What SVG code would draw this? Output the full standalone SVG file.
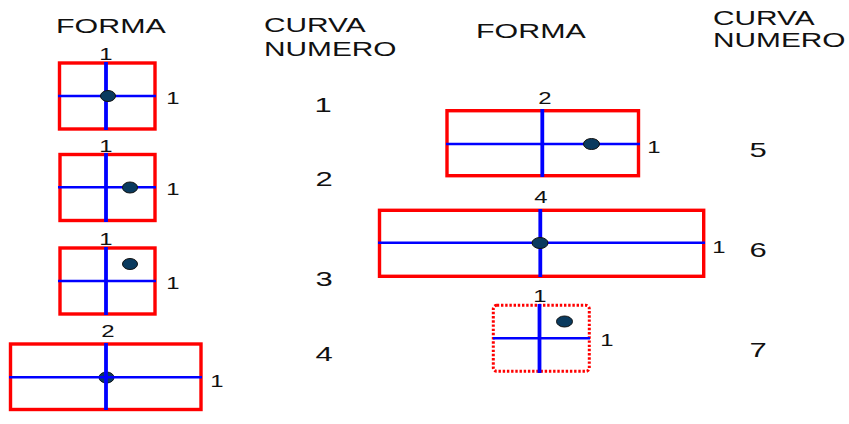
<svg xmlns="http://www.w3.org/2000/svg" width="849" height="424" viewBox="0 0 849 424">
  <style>
    text { font-family: "Liberation Sans", Arial, sans-serif; fill: #111; }
    .hd { font-size: 19.5px; }
    .num { font-size: 20px; text-anchor: middle; }
    .dim { font-size: 16.5px; text-anchor: middle; }
    .frame { fill: none; stroke: #ff0000; stroke-width: 3.4; }
    .frame-dot { fill: none; stroke: #ff0000; stroke-width: 3; stroke-dasharray: 2.4 1.8; }
    .axh { stroke: #0000ff; stroke-width: 2.6; }
    .axv { stroke: #0000ff; stroke-width: 3.8; }
    .pt { fill: #0a3a5e; stroke: #111; stroke-width: 1; }
  </style>

  <!-- column headings -->
  <g id="headings">
    <text class="hd" transform="translate(56 33) scale(1.56 1)">FORMA</text>
    <text class="hd" transform="translate(264 32) scale(1.53 1)">CURVA</text>
    <text class="hd" transform="translate(264 56) scale(1.53 1)">NUMERO</text>
    <text class="hd" transform="translate(476 38) scale(1.56 1)">FORMA</text>
    <text class="hd" transform="translate(713 25) scale(1.53 1)">CURVA</text>
    <text class="hd" transform="translate(713 47) scale(1.53 1)">NUMERO</text>
  </g>

  <!-- shape 1 -->
  <g id="forma1">
    <rect class="frame" x="59.5" y="63" width="95.5" height="66"/>
    <line class="axh" x1="58" y1="96" x2="156" y2="96"/>
    <line class="axv" x1="106" y1="62" x2="106" y2="130"/>
    <ellipse class="pt" cx="108" cy="96" rx="7.5" ry="5.5"/>
    <text class="dim" transform="translate(106 60) scale(1.45 1)">1</text>
    <text class="dim" transform="translate(173 104) scale(1.45 1)">1</text>
  </g>
  <g id="curva1"><text class="num" transform="translate(323 112) scale(1.55 1)">1</text></g>

  <!-- shape 2 -->
  <g id="forma2">
    <rect class="frame" x="60" y="154.5" width="95" height="66"/>
    <line class="axh" x1="58" y1="187.3" x2="156" y2="187.3"/>
    <line class="axv" x1="106" y1="153" x2="106" y2="222"/>
    <ellipse class="pt" cx="130" cy="187.5" rx="7.5" ry="5.5"/>
    <text class="dim" transform="translate(106 152) scale(1.45 1)">1</text>
    <text class="dim" transform="translate(173 195) scale(1.45 1)">1</text>
  </g>
  <g id="curva2"><text class="num" transform="translate(324 186) scale(1.55 1)">2</text></g>

  <!-- shape 3 -->
  <g id="forma3">
    <rect class="frame" x="60" y="248" width="95" height="66"/>
    <line class="axh" x1="58" y1="281" x2="156" y2="281"/>
    <line class="axv" x1="106" y1="247" x2="106" y2="315"/>
    <ellipse class="pt" cx="130" cy="264" rx="7.5" ry="5.5"/>
    <text class="dim" transform="translate(106 245) scale(1.45 1)">1</text>
    <text class="dim" transform="translate(173 289) scale(1.45 1)">1</text>
  </g>
  <g id="curva3"><text class="num" transform="translate(324 286) scale(1.55 1)">3</text></g>

  <!-- shape 4 -->
  <g id="forma4">
    <rect class="frame" x="10.5" y="344" width="190.5" height="65.5"/>
    <ellipse class="pt" cx="106.5" cy="377.5" rx="7.5" ry="5.5"/>
    <line class="axh" x1="9" y1="377.3" x2="202" y2="377.3"/>
    <line class="axv" x1="106" y1="343" x2="106" y2="410"/>
    <text class="dim" transform="translate(108 337) scale(1.45 1)">2</text>
    <text class="dim" transform="translate(217 387) scale(1.45 1)">1</text>
  </g>
  <g id="curva4"><text class="num" transform="translate(324 361) scale(1.55 1)">4</text></g>

  <!-- shape 5 -->
  <g id="forma5">
    <rect class="frame" x="447" y="110.7" width="191.5" height="65"/>
    <line class="axh" x1="446" y1="144" x2="640" y2="144"/>
    <line class="axv" x1="542.3" y1="109" x2="542.3" y2="177"/>
    <ellipse class="pt" cx="591.5" cy="144" rx="8" ry="5.5"/>
    <text class="dim" transform="translate(545 104) scale(1.45 1)">2</text>
    <text class="dim" transform="translate(654 153) scale(1.45 1)">1</text>
  </g>
  <g id="curva5"><text class="num" transform="translate(758 157) scale(1.55 1)">5</text></g>

  <!-- shape 6 -->
  <g id="forma6">
    <rect class="frame" x="379.5" y="210.3" width="324.2" height="66"/>
    <line class="axh" x1="378" y1="242.7" x2="705" y2="242.7"/>
    <line class="axv" x1="540.3" y1="209" x2="540.3" y2="277"/>
    <ellipse class="pt" cx="540" cy="243" rx="8" ry="5.5"/>
    <text class="dim" transform="translate(541 203) scale(1.45 1)">4</text>
    <text class="dim" transform="translate(719 253) scale(1.45 1)">1</text>
  </g>
  <g id="curva6"><text class="num" transform="translate(758 257) scale(1.55 1)">6</text></g>

  <!-- shape 7 (dotted outline) -->
  <g id="forma7">
    <rect class="frame-dot" x="493.3" y="305.3" width="96" height="66" rx="3.5"/>
    <line class="axh" x1="493" y1="338.3" x2="590" y2="338.3"/>
    <line class="axv" x1="539.5" y1="304" x2="539.5" y2="373"/>
    <ellipse class="pt" cx="564.5" cy="321.5" rx="8" ry="5.5"/>
    <text class="dim" transform="translate(540 302) scale(1.45 1)">1</text>
    <text class="dim" transform="translate(607 346) scale(1.45 1)">1</text>
  </g>
  <g id="curva7"><text class="num" transform="translate(758 357) scale(1.55 1)">7</text></g>
</svg>
